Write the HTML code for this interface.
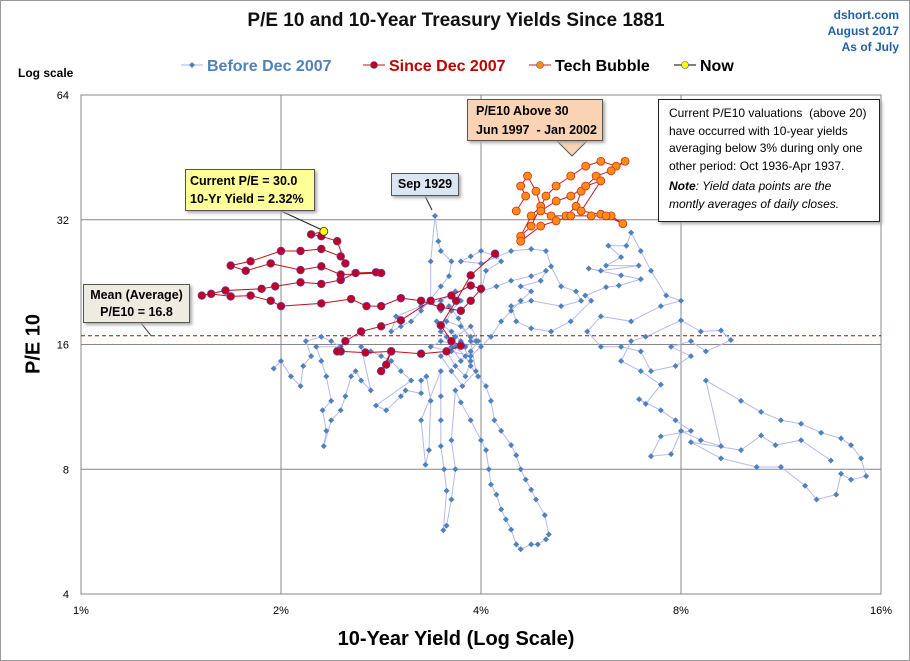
<!DOCTYPE html>
<html><head><meta charset="utf-8"><style>
body{margin:0;background:#fff;font-family:"Liberation Sans",sans-serif}
#wrap{position:relative;width:910px;height:661px;overflow:hidden;background:#fff;border:1px solid #999;box-sizing:border-box}
.t{position:absolute;white-space:nowrap}
</style></head><body>
<div id="wrap">
<svg id="chart" width="910" height="661" style="position:absolute;left:0;top:0"></svg>
<div class="t" style="left:0;width:910px;text-align:center;top:9px;font-size:19px;font-weight:bold;color:#111">P/E 10 and 10-Year Treasury Yields Since 1881</div>
<div class="t" style="right:10px;top:6px;text-align:right;font-size:12px;font-weight:bold;color:#1f5fa8;line-height:16px">dshort.com<br>August 2017<br>As of July</div>
<div class="t" style="left:17px;top:65px;font-size:12px;font-weight:bold">Log scale</div>
<div class="t" style="left:33px;top:343px;font-size:20px;font-weight:bold;transform:translate(-50%,-50%) rotate(-90deg)">P/E 10</div>
<div class="t" style="left:0;width:910px;text-align:center;top:627px;font-size:20px;font-weight:bold">10-Year Yield (Log Scale)</div>
<div class="t" style="left:466px;top:98px;width:136px;height:42px;background:#fad3b4;border:1px solid #555;box-shadow:2px 2px 3px #aaa;font-size:12.5px;font-weight:bold;line-height:19px;padding:2px 0 0 8px;box-sizing:border-box">P/E10 Above 30<br>Jun 1997 &nbsp;- Jan 2002</div>
<div class="t" style="left:657px;top:98px;width:222px;height:123px;background:#fff;border:1px solid #222;box-shadow:2px 2px 3px #aaa;font-size:12px;line-height:17.5px;padding:5px 0 0 10px;box-sizing:border-box">Current P/E10 valuations &nbsp;(above 20)<br>have occurred with 10-year yields<br>averaging below 3% during only one<br>other period: Oct 1936-Apr 1937.<br><span style="display:inline-block;margin-top:3px;font-style:italic"><b>Note</b>: Yield data points are the<br>montly averages of daily closes.</span></div>
<div class="t" style="left:184px;top:168px;width:130px;height:42px;background:#ffff99;border:1px solid #555;box-shadow:2px 2px 3px #aaa;font-size:12.5px;font-weight:bold;line-height:18px;padding:2px 0 0 4px;box-sizing:border-box">Current P/E = 30.0<br>10-Yr Yield = 2.32%</div>
<div class="t" style="left:390px;top:172px;width:68px;height:23px;background:#dce6f2;border:1px solid #555;box-shadow:2px 2px 3px #aaa;font-size:12.5px;font-weight:bold;line-height:21px;text-align:center;box-sizing:border-box">Sep 1929</div>
<div class="t" style="left:82px;top:283px;width:107px;height:39px;background:#eeece1;border:1px solid #555;box-shadow:2px 2px 3px #aaa;font-size:12.5px;font-weight:bold;line-height:17px;text-align:center;padding-top:2px;box-sizing:border-box">Mean (Average)<br>P/E10 = 16.8</div>
</div>
<script>
const xTicks=[1,2,4,8,16];
const yTicks=[4,8,16,32,64];
const meanPE=16.8;
const beforeYield=[1.95,2.0,2.07,2.14,2.16,2.22,2.18,2.30,2.38,2.46,2.26,2.30,2.34,2.38,2.31,2.34,2.32,2.38,2.46,2.50,2.55,2.59,2.64,2.73,2.64,2.73,2.83,2.93,3.03,3.14,2.78,2.88,3.03,3.08,3.25,3.25,3.31,
3.36,3.34,3.30,3.25,3.48,3.48,3.48,3.48,3.52,3.55,3.51,3.55,3.61,3.66,3.61,3.66,3.73,3.86,4.0,4.07,4.11,4.14,4.22,4.29,4.36,4.44,4.52,4.59,4.76,4.87,5.01,5.06,4.99,4.84,4.76,4.67,4.59,4.52,4.44,4.29,4.19,4.14,4.07,3.96,3.86,3.79,3.66,3.55,3.48,3.43,
3.61,3.73,3.86,3.79,3.66,3.55,3.66,3.86,3.96,3.86,3.73,3.61,3.48,3.61,3.75,3.93,3.86,3.70,3.58,3.48,
3.36,3.36,3.41,3.45,3.48,3.61,3.58,3.48,3.25,3.14,3.03,2.93,2.98,3.25,3.48,3.66,3.73,3.61,3.55,3.73,3.86,3.93,3.79,3.48,3.36,3.61,3.86,4.0,4.14,4.29,4.44,4.59,4.76,4.59,4.92,5.01,4.76,4.44,4.22,4.0,4.07,4.29,4.22,4.0,3.86,3.73,4.0,4.44,4.76,5.01,5.10,5.28,5.56,5.66,5.28,4.76,4.44,4.52,4.76,5.10,5.46,5.86,
5.74,6.17,6.45,6.96,6.50,5.81,6.06,6.91,6.17,6.50,6.22,6.62,6.73,6.96,7.21,7.6,8.0,7.46,6.73,6.06,5.78,6.06,6.50,6.96,7.21,7.85,8.28,7.73,8.28,8.72,9.51,9.19,8.57,8.0,7.08,6.73,6.50,6.96,7.46,7.08,6.92,7.46,7.85,8.28,7.46,7.21,7.73,8.0,8.57,9.19,8.72,9.85,10.56,11.31,12.13,13.0,13.93,14.42,14.93,15.2,14.42,13.93,13.7,12.8,12.3,11.31,10.4,9.19,8.28,9.85,10.56,11.1,12.13,13.45];
const beforePE=[14.0,14.6,13.4,12.7,14.2,15.0,16.3,16.7,16.3,15.8,15.8,14.6,13.4,11.7,11.1,9.9,9.1,10.5,11.1,12.0,13.4,13.8,13.1,12.4,15.8,15.4,15.0,14.6,13.8,13.1,11.4,11.1,12.0,12.4,12.2,13.1,13.4,
11.7,8.9,8.2,10.5,13.8,12.0,10.5,9.1,8.0,7.1,5.7,5.85,6.76,8.0,9.4,12.4,11.6,10.5,9.4,8.9,8.0,7.35,6.95,6.4,6.05,5.72,5.27,5.13,5.27,5.27,5.42,5.57,6.2,6.76,7.14,7.55,8.0,8.65,9.15,9.9,10.5,11.7,12.7,13.4,14.2,15.0,15.8,16.7,17.2,18.2,
17.2,16.3,14.6,13.4,14.2,15.4,16.7,17.7,16.3,15.4,14.6,15.8,15.0,13.8,12.7,13.8,16.3,18.5,19.8,19.3,
20.4,25.4,32.7,28.4,26.9,25.4,23.4,22.1,19.3,18.2,17.7,17.2,18.7,19.8,20.4,21.5,20.4,19.3,18.2,17.7,16.7,16.3,15.8,16.3,15.8,15.4,15.0,15.8,16.7,18.2,19.3,20.4,21.5,22.1,22.8,24.1,23.4,22.8,22.1,21.5,24.1,25.4,26.1,26.9,26.1,25.4,25.1,26.9,27.2,26.9,24.7,22.1,21.5,20.4,19.8,20.4,19.8,18.2,17.5,17.2,18.2,20.4,
21.0,22.0,22.2,23.0,23.5,24.4,24.1,24.8,24.8,26.0,27.7,27.7,29.8,26.9,24.1,21.0,20.4,19.8,18.2,18.7,17.2,15.8,15.8,15.4,13.8,14.2,15.0,15.8,16.3,15.4,16.4,17.3,17.2,18.3,16.7,16.3,14.6,13.8,12.8,11.5,11.8,11.1,10.5,9.9,9.6,8.6,8.7,9.9,9.4,9.1,13.1,11.7,11.0,10.5,10.3,9.8,9.5,9.15,8.5,7.7,7.55,7.8,6.95,6.76,7.3,8.1,8.1,8.5,9.3,8.9,9.65,9.15,9.4,8.4];
const sinceYield=[4.2,3.86,3.67,3.48,3.61,3.73,3.55,3.25,2.93,2.88,2.83,2.93,2.68,2.46,2.43,2.50,2.64,2.83,3.03,3.36,3.61,3.86,4.0,3.86,3.73,3.48,3.25,3.03,2.83,2.69,2.55,2.30,2.0,1.93,1.80,1.68,1.57,1.52,1.65,1.87,1.96,2.14,2.30,2.46,2.59,2.78,2.83,2.46,2.30,2.14,1.93,1.77,1.68,1.80,2.0,2.14,2.30,2.46,2.50,2.43,2.30,2.22,2.32];
const sincePE=[26.5,23.5,20.4,17.8,16.3,15.9,15.4,15.2,15.4,14.3,13.8,15.4,15.3,15.4,15.4,16.3,17.2,17.7,18.3,20.4,21.0,22.2,21.8,20.4,19.3,19.7,20.4,20.7,19.8,19.8,20.6,20.1,19.8,20.4,21.0,20.9,21.2,21.0,21.6,21.8,22.1,22.6,22.4,22.9,23.8,23.9,23.8,23.6,24.7,24.2,25.1,24.1,24.8,25.4,26.9,26.9,27.2,26.1,25.1,28.4,29.2,29.5,30.0];
const techYield=[4.52,4.67,4.59,4.70,4.84,4.92,4.76,4.59,4.76,5.01,5.19,5.46,5.75,6.06,6.39,6.59,6.28,5.96,5.66,5.56,5.37,5.10,4.92,5.19,5.46,5.75,6.06,5.66,6.06,6.28,6.54,6.17,5.86,5.46,5.19,4.92,4.59];
const techPE=[33.6,36.5,38.6,40.8,37.5,34.5,32.7,29.2,30.9,36.5,38.6,40.8,43.1,44.3,43.1,44.3,42.0,40.8,37.5,34.5,32.7,32.7,33.6,35.5,36.5,38.6,39.7,33.6,33.0,32.7,31.3,32.7,32.7,32.7,31.8,30.9,28.4];
const nowYield=[2.32];
const nowPE=[30.0];

const L=80,R=880,T=94,B=593;
const sx=v=>L+(R-L)*Math.log2(v/1)/4;
const sy=v=>B-(B-T)*Math.log2(v/4)/4;
const svg=document.getElementById('chart');
const NS='http://www.w3.org/2000/svg';
function mk(tag,attrs){const e=document.createElementNS(NS,tag);for(const k in attrs)e.setAttribute(k,attrs[k]);svg.appendChild(e);return e;}

const bg=mk('rect',{x:L,y:T,width:R-L,height:B-T,fill:'#fff',stroke:'#888'});


xTicks.forEach(v=>{
  const x=sx(v);
  if(v>1&&v<16){const g=mk('line',{x1:x,x2:x,y1:T,y2:B,stroke:'#888'});
  
  }
  const t=mk('text',{x:x,y:B+20,'text-anchor':'middle','font-size':'11','font-family':'Liberation Sans, sans-serif'});
  t.textContent=v+'%';
  
  
});
yTicks.forEach(v=>{
  const y=sy(v);
  if(v>4&&v<64){const g=mk('line',{x1:L,x2:R,y1:y,y2:y,stroke:'#888'});
  
  }
  const t=mk('text',{x:L-12,y:y+4,'text-anchor':'end','font-size':'11','font-family':'Liberation Sans, sans-serif'});
  t.textContent=v;
  
  
});
const ml=mk('line',{x1:L,x2:R,y1:sy(meanPE),y2:sy(meanPE),stroke:'#c00000','stroke-dasharray':'4,3'});


const mc=mk('line',{x1:140,y1:322,x2:150,y2:sy(meanPE),stroke:'#333'});



function series(xs,ys,line,name,drawMark){
  const pts=xs.map((v,i)=>sx(v).toFixed(1)+','+sy(ys[i]).toFixed(1)).join(' ');
  const pl=mk('polyline',{points:pts,fill:'none',stroke:line,'stroke-width':'1'});
  
  
  xs.forEach((v,i)=>{const m=drawMark(sx(v),sy(ys[i]));
    
    });
}
series(beforeYield,beforePE,'#b4b8f4','before-2007',(x,y)=>mk('polygon',{points:`${x},${y-3} ${x+3},${y} ${x},${y+3} ${x-3},${y}`,fill:'#4f81bd'}));
series(techYield,techPE,'#c0202a','tech-bubble',(x,y)=>mk('circle',{cx:x,cy:y,r:4,fill:'#ff8c1a',stroke:'#d03010','stroke-width':'0.8'}));
series(sinceYield,sincePE,'#c0101a','since-2007',(x,y)=>mk('circle',{cx:x,cy:y,r:3.8,fill:'#c00020',stroke:'#7030a0','stroke-width':'0.8'}));
series(nowYield,nowPE,'#000','now',(x,y)=>mk('circle',{cx:x,cy:y,r:4,fill:'#ffff00',stroke:'#333','stroke-width':'0.8'}));

const p1=mk('line',{x1:280,y1:210,x2:sx(nowYield[0])-3,y2:sy(nowPE[0])-2,stroke:'#222'});


const p2=mk('line',{x1:424,y1:195,x2:431,y2:209,stroke:'#222'});


const p3=mk('polygon',{points:'556,140 586,140 571,155',fill:'#fad3b4',stroke:'#555'});



const leg=[['Before Dec 2007','#4f81bd','#aab0f0','d',180],['Since Dec 2007','#c00020','#c0101a','c',362],['Tech Bubble','#ff8c1a','#c0202a','c',528],['Now','#ffff00','#000','c',673]];
leg.forEach(([lab,fc,lc,sh,x])=>{
  const g=mk('line',{x1:x,x2:x+22,y1:64,y2:64,stroke:lc});
  
  
  const m=sh==='d'?mk('polygon',{points:`${x+11},61 ${x+14},64 ${x+11},67 ${x+8},64`,fill:fc}):mk('circle',{cx:x+11,cy:64,r:3.5,fill:fc,stroke:'#555','stroke-width':'0.6'});
  
  
  const t=mk('text',{x:x+26,y:70,'font-size':'16','font-weight':'bold','font-family':'Liberation Sans, sans-serif',fill:sh==='d'?'#4f81bd':(lab==='Since Dec 2007'?'#c00000':'#000')});
  t.textContent=lab;
  
  
});
</script>
</body></html>
